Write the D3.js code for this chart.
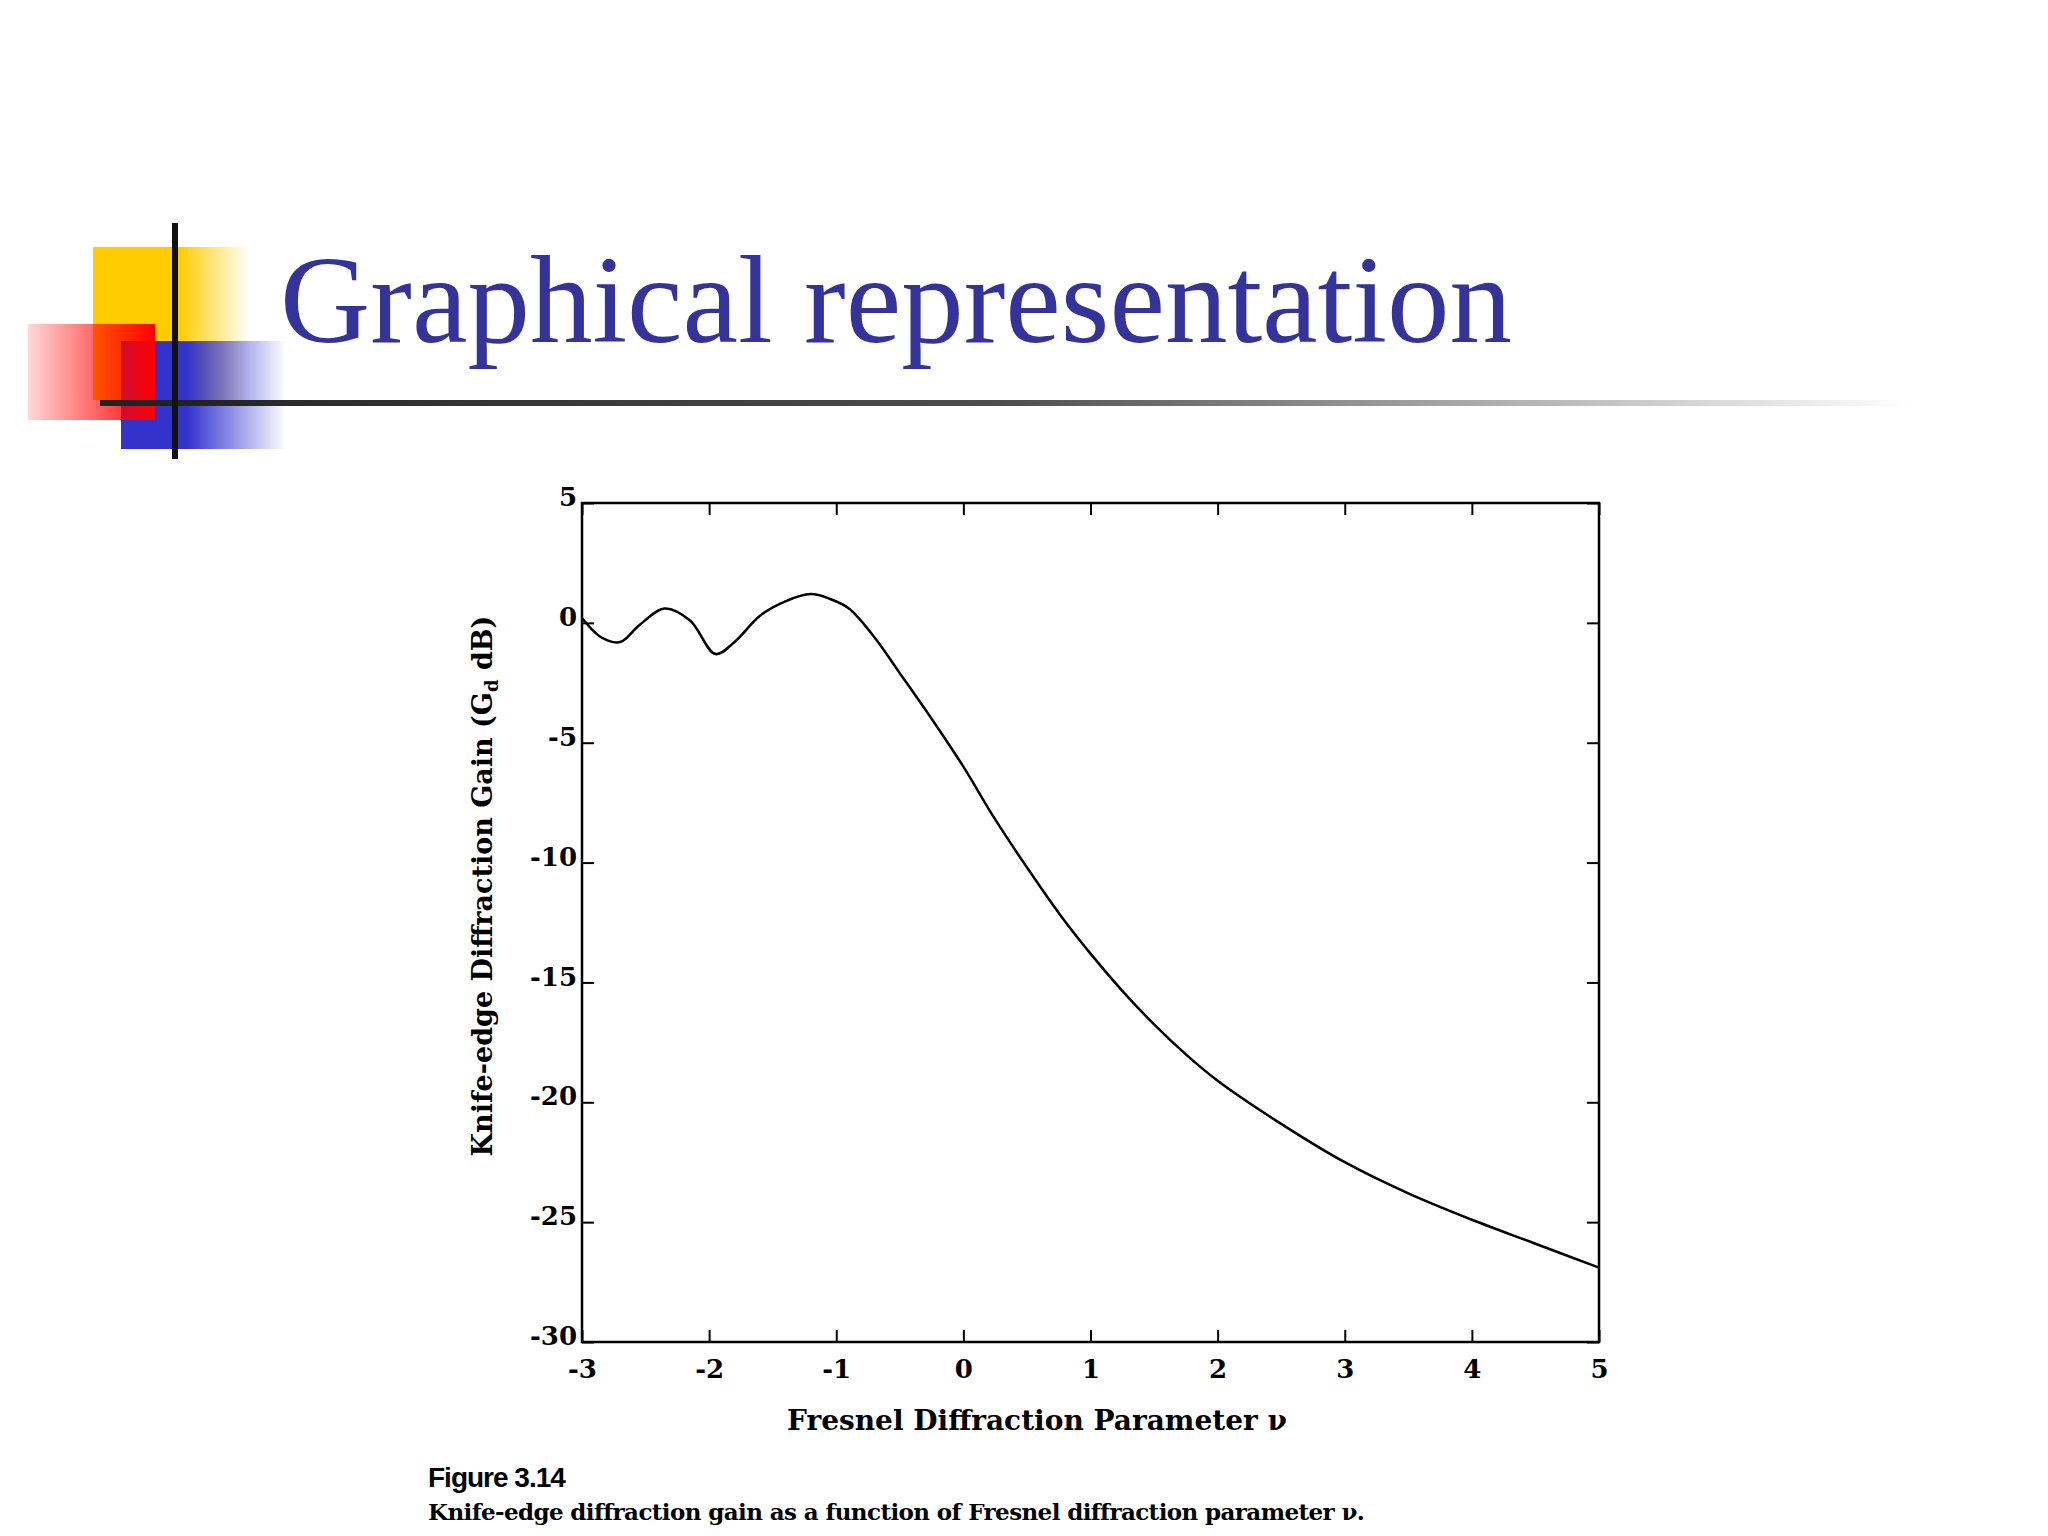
<!DOCTYPE html><html><head><meta charset="utf-8"><script src="https://d3js.org/d3.v7.min.js"></script>
<style>body{margin:0;background:#fff}</style></head><body>
<script>
const vValues=[-3,-2.85,-2.7,-2.55,-2.35,-2.15,-1.95,-1.8,-1.6,-1.4,-1.2,-1.05,-0.9,-0.7,-0.5,-0.25,0,0.25,0.5,0.75,1,1.25,1.5,1.75,2,2.5,3,3.5,4,4.5,5];
const gainValues=[0.2,-0.6,-0.8,-0.1,0.6,0.1,-1.3,-0.8,0.3,0.9,1.2,1.0,0.6,-0.6,-2.1,-4.0,-6.0,-8.2,-10.2,-12.1,-13.8,-15.35,-16.75,-18.0,-19.1,-20.9,-22.5,-23.8,-24.9,-25.9,-26.9];
const xTicks=[-3,-2,-1,0,1,2,3,4,5];
const yTicks=[5,0,-5,-10,-15,-20,-25,-30];
const W=2048,H=1536;
const svg=d3.select("body").append("svg").attr("width",W).attr("height",H);
const defs=svg.append("defs");
function grad(id,c,stops){const g=defs.append("linearGradient").attr("id",id);stops.forEach(s=>g.append("stop").attr("offset",s[0]).attr("stop-color",c).attr("stop-opacity",s[1]));}
grad("gy","#ffcc00",[[0,1],[0.55,1],[1,0]]);
grad("gr","#ff0000",[[0,0.15],[1,1]]);
grad("gb","#3333cc",[[0,1],[0.4,1],[1,0]]);
grad("gl","#222",[[0,1],[0.5,0.8],[1,0]]);
svg.append("rect").attr("x",93).attr("y",247).attr("width",156).attr("height",153).attr("fill","url(#gy)");
svg.append("rect").attr("x",121).attr("y",341).attr("width",165).attr("height",108).attr("fill","url(#gb)");
svg.append("rect").attr("x",28).attr("y",324).attr("width",127).attr("height",96).attr("fill","url(#gr)");
svg.append("rect").attr("x",100).attr("y",400).attr("width",1810).attr("height",6).attr("fill","url(#gl)");
svg.append("rect").attr("x",172).attr("y",223).attr("width",6).attr("height",236).attr("fill","#111");
svg.append("text").attr("x",280).attr("y",342).attr("font-family","Liberation Serif").attr("font-size",125).attr("fill","#333399").text("Graphical representation");
const L=582,R=1599,T=503,B=1342;
const x=d3.scaleLinear().domain([-3,5]).range([L,R]);
const y=d3.scaleLinear().domain([-30,5]).range([B,T]);
const g=svg.append("g");
g.append("rect").attr("x",L).attr("y",T).attr("width",R-L).attr("height",B-T).attr("fill","none").attr("stroke","#000").attr("stroke-width",2.5);
const ff="DejaVu Serif";
g.append("g").attr("transform",`translate(0,${B})`).call(d3.axisBottom(x).tickValues(xTicks).tickSizeInner(-12).tickSizeOuter(0).tickPadding(18).tickFormat(d=>d<0?"-"+(-d):d)).call(a=>{a.select(".domain").remove();a.selectAll("text").attr("font-family",ff).attr("font-weight","bold").attr("font-size",26);});
g.append("g").attr("transform",`translate(0,${T})`).call(d3.axisTop(x).tickValues(xTicks).tickSizeInner(-12).tickSizeOuter(0).tickFormat("")).select(".domain").remove();
g.append("g").attr("transform",`translate(${L},0)`).call(d3.axisLeft(y).tickValues(yTicks).tickSizeInner(-12).tickSizeOuter(0).tickPadding(5).tickFormat(d=>d<0?"-"+(-d):d)).call(a=>{a.select(".domain").remove();a.selectAll("text").attr("font-family",ff).attr("font-weight","bold").attr("font-size",26).attr("dy","0.1em");});
g.append("g").attr("transform",`translate(${R},0)`).call(d3.axisRight(y).tickValues(yTicks).tickSizeInner(-12).tickSizeOuter(0).tickFormat("")).select(".domain").remove();
g.selectAll(".tick line").attr("stroke-width",2);
g.append("path").datum(vValues.map((v,i)=>[v,gainValues[i]])).attr("fill","none").attr("stroke","#000").attr("stroke-width",2.5)
 .attr("d",d3.line().x(d=>x(d[0])).y(d=>y(d[1])).curve(d3.curveCatmullRom));
svg.append("text").attr("x",1037).attr("y",1430).attr("text-anchor","middle").attr("font-family",ff).attr("font-weight","bold").attr("font-size",28).text("Fresnel Diffraction Parameter ν");
svg.append("text").attr("transform",`translate(492,886) rotate(-90)`).attr("text-anchor","middle").attr("font-family",ff).attr("font-weight","bold").attr("font-size",27)
 .call(t=>{t.append("tspan").text("Knife-edge Diffraction Gain (G");t.append("tspan").attr("font-size",18).attr("dy",6).text("d");t.append("tspan").attr("dy",-6).text(" dB)");});
svg.append("text").attr("x",428).attr("y",1487).attr("font-family","Liberation Sans").attr("font-weight","bold").attr("font-size",28).attr("letter-spacing",-1).text("Figure 3.14");
svg.append("text").attr("x",428).attr("y",1520).attr("font-family",ff).attr("font-weight","bold").attr("font-size",23).attr("letter-spacing",-0.6).text("Knife-edge diffraction gain as a function of Fresnel diffraction parameter ν.");
</script></body></html>
